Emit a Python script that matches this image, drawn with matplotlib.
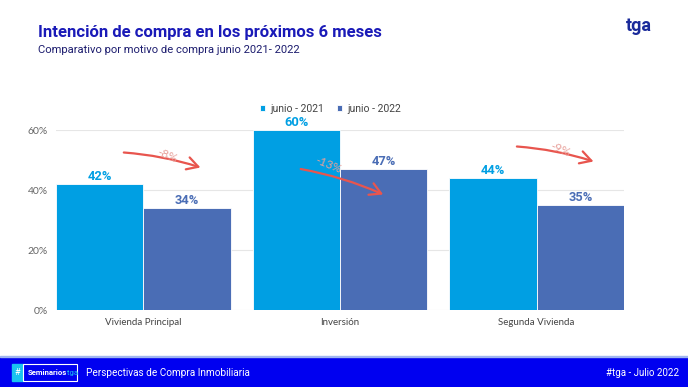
import matplotlib
matplotlib.use("Agg")
import matplotlib.pyplot as plt
import numpy as np
from matplotlib.patches import Rectangle, FancyBboxPatch

categories = ["Vivienda Principal", "Inversión", "Segunda Vivienda"]
series_names = ["junio - 2021", "junio - 2022"]
values_2021 = [42, 60, 44]
values_2022 = [34, 47, 35]
changes = ["-8%", "-13%", "-9%"]
yticks = [0, 20, 40, 60]

c2021 = "#009FE3"
c2022 = "#4A6DB5"
title_col = "#1A1AB8"

fig = plt.figure(figsize=(6.88, 3.87), dpi=100)
fig.patch.set_facecolor("white")

ax = fig.add_axes([56/688, 1-310/387, (624-56)/688, 180/387])
x = np.arange(len(categories))
w = 0.445
b1 = ax.bar(x - w/2, values_2021, w, color=c2021, label=series_names[0], edgecolor="white", linewidth=0.6, zorder=2)
b2 = ax.bar(x + w/2, values_2022, w, color=c2022, label=series_names[1], edgecolor="white", linewidth=0.6, zorder=3)
ax.set_xlim(-0.445, 2.445)
ax.set_ylim(0, 60)
ax.set_yticks(yticks)
ax.set_yticklabels([f"{v}%" for v in yticks], fontfamily="Lato", fontsize=7.5, color="#666666")
ax.set_xticks(x)
ax.set_xticklabels(categories, fontfamily="Lato", fontsize=7, color="#444444")
ax.tick_params(length=0, pad=6)
ax.tick_params(axis="x", pad=6)
for s in ax.spines.values():
    s.set_visible(False)
ax.grid(axis="y", color="#E6E6E6", linewidth=0.8, zorder=0)
ax.set_axisbelow(True)

for bars, col in ((b1, c2021), (b2, c2022)):
    for r in bars:
        h = r.get_height()
        ax.text(r.get_x() + r.get_width()/2, h + 0.3, f"{h:g}%", ha="center", va="bottom",
                fontfamily="Roboto", fontweight="bold", fontsize=9.3, color=col, zorder=5, clip_on=False)

# arrows with change labels (decorative annotations)
arrow_col = "#E8554E"
for i, lab in enumerate(changes):
    top = values_2021[i]
    if i == 1:
        start = (i - 0.2, top - 13)
        end = (i + 0.22, top - 21.5)
        tpos = (i - 0.06, top - 11.8)
        tz = 2.5
    else:
        start = (i - 0.1, top + 10.5)
        end = (i + 0.29, top + 5.5)
        tpos = (i + 0.12, top + 9.4)
        tz = 6
    ax.annotate("", xy=end, xytext=start,
                arrowprops=dict(arrowstyle="->,head_length=0.8,head_width=0.45", color=arrow_col, lw=1.6,
                                connectionstyle="arc3,rad=-0.06", shrinkA=0, shrinkB=0), zorder=6)
    ax.text(tpos[0], tpos[1], lab, rotation=-22, ha="center", va="center", fontsize=8.5,
            color="#E8A09A", fontfamily="Lato", zorder=tz)

leg = ax.legend(loc="center", bbox_to_anchor=(0.483, 1 + 21/180), ncol=2, frameon=False,
                handlelength=0.5, handleheight=0.5, handletextpad=0.5, columnspacing=1.2,
                prop={"family": "Roboto", "size": 7.5}, borderaxespad=0)
for t in leg.get_texts():
    t.set_color("#444444")

# titles
fig.text(38/688, 1-33/387, "Intención de compra en los próximos 6 meses", fontfamily="Roboto",
         fontweight="bold", fontsize=12, color=title_col, va="center", ha="left")
fig.text(38/688, 1-50/387, "Comparativo por motivo de compra junio 2021- 2022", fontfamily="Roboto",
         fontsize=8.1, color="#1C1C6E", va="center", ha="left")
# logo
fig.text(639/688, 1-26/387, "tga", fontfamily="Roboto", fontweight="bold", fontsize=13,
         color="#1A2A9A", va="center", ha="center")

# footer
fig.add_artist(Rectangle((0, 0), 1, 30/387, transform=fig.transFigure, color="#0000F0", zorder=1))
fig.add_artist(Rectangle((0, 30/387), 1, 1.5/387, transform=fig.transFigure, color="#9FB5F0", zorder=1))
fig.add_artist(Rectangle((12/688, 6/387), 11/688, 17/387, transform=fig.transFigure, color="#19C3F0", zorder=2))
fig.add_artist(Rectangle((23/688, 6/387), 54/688, 17/387, transform=fig.transFigure, facecolor="#0000F0",
                         edgecolor="white", linewidth=0.8, zorder=2))
fig.text(17.5/688, 14.5/387, "#", fontfamily="Roboto", fontsize=6.5, color="white", ha="center", va="center", zorder=3)
t1 = fig.text(28/688, 14.5/387, "Seminarios", fontfamily="Roboto", fontweight="bold", fontsize=5.6,
         color="white", ha="left", va="center", zorder=3)
fig.canvas.draw()
bb = t1.get_window_extent()
fig.text(bb.x1/688, 14.5/387, "tga", fontfamily="Roboto", fontsize=5.6,
         color="#19C3F0", ha="left", va="center", zorder=3)
fig.text(86/688, 14.5/387, "Perspectivas de Compra Inmobiliaria", fontfamily="Roboto", fontsize=7.2,
         color="white", ha="left", va="center", zorder=3)
fig.text(679/688, 14.5/387, "#tga - Julio 2022", fontfamily="Roboto", fontsize=7,
         color="white", ha="right", va="center", zorder=3)

fig.savefig("out.png", dpi=100)
